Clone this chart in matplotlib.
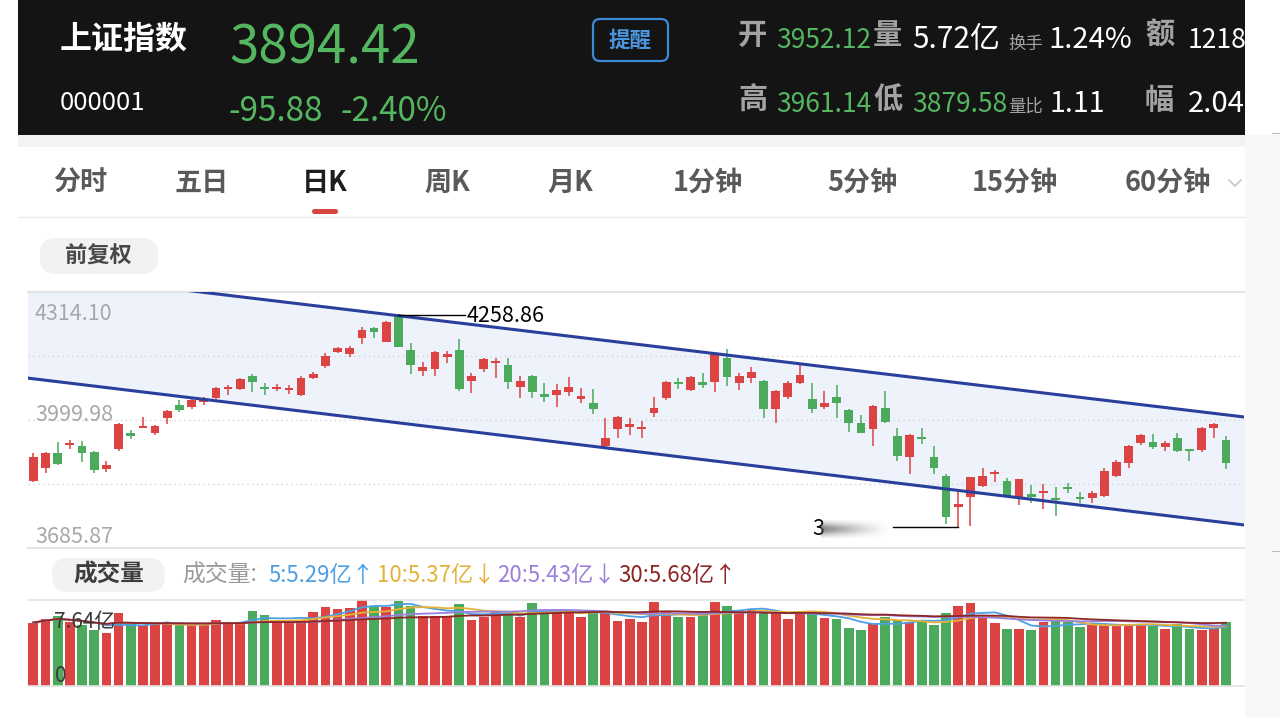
import numpy as np
import pandas as pd
import matplotlib
matplotlib.use('Agg')
import matplotlib.pyplot as plt
from matplotlib.patches import Rectangle, FancyBboxPatch

# ---- data ----
opens = [3850, 3883, 3920, 3938, 3937, 3922, 3880, 3929, 3967, 3981,
         3969, 4004, 4037, 4031, 4044, 4053, 4076, 4075, 4108, 4080,
         4077, 4074, 4061, 4104, 4133, 4168, 4162, 4200, 4226, 4192,
         4256, 4172, 4120, 4124, 4154, 4172, 4096, 4125, 4139, 4135,
         4080, 4108, 4064, 4061, 4068, 4051, 4042, 3937, 3978, 3983,
         3979, 4016, 4053, 4094, 4074, 4094, 4094, 4151, 4090, 4102,
         4096, 4027, 4057, 4090, 4051, 4031, 4056, 4025, 3993, 3977,
         4029, 3961, 3908, 3959, 3908, 3862, 3787, 3812, 3839, 3867,
         3850, 3808, 3818, 3820, 3809, 3835, 3812, 3809, 3814, 3862,
         3895, 3943, 3947, 3933, 3955, 3929, 3926, 3980, 3952.12]
closes = [3910, 3920, 3891, 3944, 3918, 3877, 3889, 3990, 3961, 3986,
          3985, 4022, 4025, 4049, 4049, 4078, 4081, 4101, 4094, 4076,
          4082, 4079, 4104, 4113, 4157, 4176, 4177, 4221, 4216, 4241,
          4178, 4135, 4131, 4168, 4162, 4075, 4109, 4150, 4145, 4094,
          4096, 4068, 4057, 4074, 4080, 4059, 4026, 3955, 4007, 3990,
          3983, 4029, 4093, 4088, 4105, 4086, 4162, 4106, 4109, 4118,
          4027, 4071, 4092, 4110, 4027, 4041, 4041, 3992, 3969, 4034,
          3996, 3912, 3963, 3953, 3881, 3763, 3795, 3859, 3862, 3873,
          3812, 3854, 3812, 3826, 3804, 3830, 3807, 3822, 3876, 3898,
          3936, 3963, 3933, 3944, 3925, 3924, 3980, 3990.30, 3894.42]
highs = [3920, 3922, 3945, 3952, 3949, 3925, 3899, 3992, 3975, 4008,
         3988, 4024, 4049, 4051, 4057, 4080, 4086, 4104, 4113, 4090,
         4088, 4086, 4108, 4119, 4164, 4180, 4182, 4227, 4229, 4244,
         4258.86, 4190, 4143, 4170, 4170, 4198, 4116, 4151, 4151, 4151,
         4108, 4110, 4090, 4088, 4105, 4078, 4075, 4004, 4010, 4004,
         3998, 4057, 4096, 4102, 4108, 4115, 4165, 4173, 4116, 4131,
         4098, 4074, 4096, 4139, 4091, 4071, 4086, 4026, 4012, 4038,
         4072, 3980, 3965, 3980, 3936, 3867, 3826, 3861, 3881, 3877,
         3857, 3856, 3840, 3842, 3836, 3845, 3824, 3826, 3881, 3902,
         3939, 3966, 3965, 3949, 3967, 3930, 3982, 3992, 3961.14]
lows = [3849, 3870, 3889, 3928, 3898, 3869, 3873, 3924, 3953, 3980,
        3963, 3990, 4020, 4028, 4038, 4051, 4061, 4074, 4069, 4061,
        4072, 4063, 4060, 4100, 4128, 4164, 4154, 4186, 4200, 4191,
        4178, 4113, 4108, 4108, 4141, 4072, 4067, 4119, 4104, 4075,
        4055, 4055, 4045, 4031, 4059, 4041, 4015, 3933, 3955, 3962,
        3957, 4007, 4049, 4076, 4072, 4079, 4069, 4084, 4074, 4091,
        4006, 3992, 4051, 4088, 4018, 4026, 4004, 3970, 3967, 3936,
        3993, 3900, 3867, 3941, 3867, 3745, 3738, 3741, 3836, 3849,
        3810, 3791, 3796, 3781, 3765, 3822, 3796, 3797, 3812, 3861,
        3881, 3939, 3928, 3924, 3922, 3900, 3922, 3955, 3879.58]
volumes = [5.64, 5.97, 6.26, 5.67, 5.38, 4.94, 4.73, 6.46, 5.47, 5.38,
           5.47, 5.52, 5.52, 5.47, 5.47, 5.82, 5.67, 5.67, 6.70, 6.35,
           5.67, 5.67, 5.88, 6.55, 6.99, 6.85, 6.93, 7.64, 7.14, 6.99,
           7.58, 7.14, 6.26, 6.26, 6.26, 7.29, 5.88, 6.17, 6.55, 6.46,
           6.17, 7.35, 6.70, 6.55, 6.70, 6.17, 6.55, 6.55, 5.76, 5.97,
           5.73, 7.43, 6.55, 6.17, 6.11, 6.35, 7.43, 7.08, 6.55, 6.76,
           6.55, 6.55, 5.97, 6.55, 6.49, 6.02, 5.91, 5.14, 4.94, 5.52,
           6.17, 5.82, 5.73, 5.82, 5.38, 6.49, 7.08, 7.38, 6.11, 5.64,
           5.08, 5.08, 4.94, 5.73, 5.82, 5.67, 5.23, 5.38, 5.47, 5.47,
           5.52, 5.38, 5.29, 5.02, 5.47, 5.02, 4.94, 5.14, 5.72]

price_ticks = [4314.10, 3999.98, 3685.87]
price_grid = [4157.04, 3999.98, 3842.92]
vol_max = 7.64
ma_windows = [5, 10, 20, 30]
ma_colors = ['#4d9fe3', '#e3b23c', '#9a80dc', '#8e2626']
ma_labels = ['5:5.29亿↑', '10:5.37亿↓', '20:5.43亿↓', '30:5.68亿↑']

# channel drawn by hand in the app: (candle index, price) end points
chan_x = [-0.5, 99.6]
chan_upper = [4365, 4007]
chan_lower = [4103, 3742]

tabs = ['分时', '五日', '日K', '周K', '月K', '1分钟', '5分钟', '15分钟', '60分钟']
tab_x = [80, 202, 325, 447, 570, 708, 862, 1015, 1168]

RED = '#dc4343'
GREEN = '#4caa5c'
HGREEN = '#55b660'

NUM = ['Liberation Sans Narrow', 'Noto Sans CJK SC', 'DejaVu Sans']
CJK = ['Noto Sans CJK SC', 'DejaVu Sans']
plt.rcParams['font.family'] = NUM

W, H = 1280, 718
fig = plt.figure(figsize=(W / 100, H / 100), dpi=100)
fig.patch.set_facecolor('white')

def box(x0, y0, x1, y1):
    return [x0 / W, 1 - y1 / H, (x1 - x0) / W, (y1 - y0) / H]

# ---- background / app chrome in pixel coords ----
bg = fig.add_axes([0, 0, 1, 1])
bg.set_xlim(0, W)
bg.set_ylim(H, 0)
bg.axis('off')
bg.add_patch(Rectangle((18, 0), 1227, 135, color='#141414', lw=0))
bg.add_patch(Rectangle((18, 135), 1227, 12, color='#f3f3f3', lw=0))
bg.add_patch(Rectangle((1245, 135), 35, 583, color='#f8f8f8', lw=0))
bg.plot([1272, 1280], [133, 133], color='#bbbbbb', lw=0.8)
bg.plot([1272, 1280], [551, 551], color='#bbbbbb', lw=0.8)

# header
bg.text(60, 40, '上证指数', family=CJK, fontsize=23, weight='bold', color='white', va='center')
bg.text(229, 63, '3894.42', fontsize=38, color=HGREEN, va='baseline')
bg.text(60, 110, '000001', fontsize=18.5, color='white', va='baseline')
bg.text(229, 121, '-95.88', fontsize=24, color=HGREEN, va='baseline')
bg.text(340, 121, '-2.40%', fontsize=24, color=HGREEN, va='baseline')
bg.add_patch(FancyBboxPatch((593, 19), 75, 42, boxstyle='round,pad=0,rounding_size=7',
                            fc='none', ec='#3b8ad9', lw=1.6))
bg.text(630, 40, '提醒', family=CJK, fontsize=15.5, weight='bold', color='#4a97e0',
        ha='center', va='center')

row1, row2 = 48, 112
GRAYH = '#a3a3a3'
bg.text(738, 35, '开', family=CJK, fontsize=21, weight='bold', color=GRAYH, va='center')
bg.text(776, row1, '3952.12', fontsize=19, color=HGREEN, va='baseline')
bg.text(873, 35, '量', family=CJK, fontsize=21, weight='bold', color=GRAYH, va='center')
bg.text(912, row1, '5.72亿', fontsize=21.5, color='white', va='baseline')
bg.text(1008, 44, '换手', family=CJK, fontsize=12.5, color=GRAYH, va='center')
bg.text(1048, row1, '1.24%', fontsize=21, color='white', va='baseline')
bg.text(1145, 35, '额', family=CJK, fontsize=21, weight='bold', color=GRAYH, va='center')
bg.text(1188, row1, '121816', fontsize=19, color='white', va='baseline')
bg.text(738, 100, '高', family=CJK, fontsize=21, weight='bold', color=GRAYH, va='center')
bg.text(776, row2, '3961.14', fontsize=19, color=HGREEN, va='baseline')
bg.text(873, 100, '低', family=CJK, fontsize=21, weight='bold', color=GRAYH, va='center')
bg.text(912, row2, '3879.58', fontsize=19, color=HGREEN, va='baseline')
bg.text(1008, 107, '量比', family=CJK, fontsize=12.5, color=GRAYH, va='center')
bg.text(1050, row2, '1.11', fontsize=20.5, color='white', va='baseline')
bg.text(1145, 100, '幅', family=CJK, fontsize=21, weight='bold', color=GRAYH, va='center')
bg.text(1188, row2, '2.04%', fontsize=21, color='white', va='baseline')

# tabs
for t, tx in zip(tabs, tab_x):
    sel = t == '日K'
    bg.text(tx, 183, t, family=NUM, fontsize=19.5, ha='center', va='center',
            color='#1e1e1e' if sel else '#595959', weight='bold')
bg.add_patch(FancyBboxPatch((312, 209), 26, 5, boxstyle='round,pad=0,rounding_size=2.5',
                            color='#d6453d', lw=0))
bg.plot([1229, 1235, 1241], [180, 186, 180], color='#c8c8c8', lw=1.2)
bg.plot([18, 1245], [217, 217], color='#ececec', lw=1)

bg.add_patch(FancyBboxPatch((40, 238), 118, 36, boxstyle='round,pad=0,rounding_size=16',
                            fc='#f1f2f4', lw=0))
bg.text(98, 256, '前复权', family=CJK, fontsize=16, weight='bold', color='#484848',
        ha='center', va='center')

bg.add_patch(FancyBboxPatch((52, 558), 113, 34, boxstyle='round,pad=0,rounding_size=16',
                            fc='#f1f2f4', lw=0))
bg.text(109, 575, '成交量', family=CJK, fontsize=17, weight='bold', color='#3d3d3d',
        ha='center', va='center')
bg.text(182, 575, '成交量:', family=NUM, fontsize=16.5, color='#9a9a9a', va='center')
for lab, col, lx in zip(ma_labels, ma_colors, [268, 377, 497, 618]):
    bg.text(lx, 575, lab, family=NUM, fontsize=16, color=col, va='center')

# ---- candlestick panel ----
n = len(opens)
x = np.arange(n)
o = np.array(opens); c = np.array(closes)
hi = np.array(highs); lo = np.array(lows)
cols = np.where(c >= o, RED, GREEN)
xlim = (-0.44, 99.48)

ax = fig.add_axes(box(28, 292, 1244, 548))
ax.set_facecolor('none')
ax.fill_between(chan_x, chan_lower, chan_upper, color='#edf2fb', lw=0, zorder=0)
for g in price_grid:
    ax.axhline(g, color='#d3d3d3', lw=1, ls=(0, (1, 2.5)), zorder=1)
ax.vlines(x, lo, hi, colors=cols, lw=1.1, zorder=3)
ax.bar(x, np.maximum(np.abs(c - o), 3.0), bottom=np.minimum(o, c), width=0.72,
       color=cols, lw=0, zorder=4)
ax.plot(chan_x, chan_upper, color='#2a3f9c', lw=2.2, zorder=5)
ax.plot(chan_x, chan_lower, color='#2a3f9c', lw=2.2, zorder=5)

imax = int(np.argmax(hi)); imin = int(np.argmin(lo))
ax.plot([imax, imax + 5.5], [hi[imax] - 2, hi[imax] - 2], color='black', lw=1, zorder=6)
ax.text(imax + 5.6, hi[imax] - 4, '%.2f' % hi[imax], fontsize=15.5, color='black',
        va='center', zorder=6)
ax.plot([imin - 5.4, imin], [lo[imin], lo[imin]], color='black', lw=1, zorder=6)
ax.text(imin - 12.0, lo[imin] - 6, '3', fontsize=15.5, color='black', va='center', zorder=6)
# blurred (masked) digits of the low value
gx = np.linspace(0, 1, 80)
gy = np.linspace(-1, 1, 16)
alpha = 0.75 * (1 - gx[None, :]) ** 1.3 * np.exp(-(gy[:, None] * 1.4) ** 2)
smear = np.zeros((16, 80, 4))
smear[..., :3] = 0.35
smear[..., 3] = alpha
ax.imshow(smear, extent=(imin - 11.3, imin - 5.6, lo[imin] - 28, lo[imin] + 16),
          aspect='auto', zorder=6, interpolation='bilinear')

ax.set_xlim(*xlim)
ax.set_ylim(price_ticks[2], price_ticks[0])
ax.set_xticks([]); ax.set_yticks([])
for s in ['left', 'right']:
    ax.spines[s].set_visible(False)
for s in ['top', 'bottom']:
    ax.spines[s].set_color('#e3e3e3'); ax.spines[s].set_linewidth(1.5)
for v, yb in zip(price_ticks, [320, 421, 543]):
    ax.text(35 / W, 1 - yb / H, '%.2f' % v, transform=fig.transFigure, fontsize=15.5,
            color='#a8a8a8', va='baseline', zorder=7)

# ---- volume panel ----
vol = pd.Series(volumes)
axv = fig.add_axes(box(28, 600, 1244, 686))
axv.set_facecolor('none')
axv.bar(x, volumes, width=0.8, color=cols, lw=0, zorder=2)
for w, col in zip(ma_windows, ma_colors):
    axv.plot(x, vol.rolling(w, min_periods=1).mean(), color=col, lw=1.3, zorder=3)
axv.set_xlim(*xlim)
axv.set_ylim(0, vol_max)
axv.set_xticks([]); axv.set_yticks([])
for s in ['left', 'right']:
    axv.spines[s].set_visible(False)
for s in ['top', 'bottom']:
    axv.spines[s].set_color('#e3e3e3'); axv.spines[s].set_linewidth(1.2)
axv.text(54 / W, 1 - 628 / H, '%.2f亿' % vol_max, transform=fig.transFigure, fontsize=15,
         color='#3a3a3a', va='baseline', zorder=5)
axv.text(55 / W, 1 - 682 / H, '0', transform=fig.transFigure, fontsize=15,
         color='#3a3a3a', va='baseline', zorder=5)

fig.savefig('out.png', dpi=100)
